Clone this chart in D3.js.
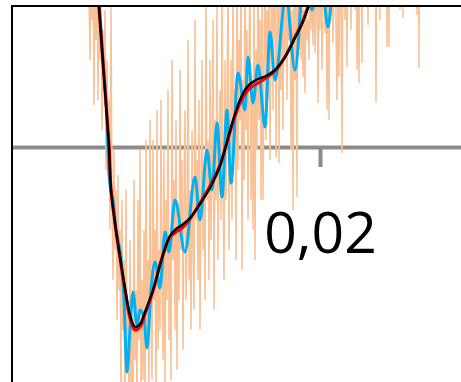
<!DOCTYPE html>
<html>
<head>
<meta charset="utf-8">
<script src="https://cdn.jsdelivr.net/npm/d3@7"></script>
<style>
  html, body { margin: 0; padding: 0; background: #fff; }
  svg { display: block; }
</style>
</head>
<body>
<div id="chart"></div>
<script>
// time in ms, amplitude in mV
const xTicks = [20];

// raw signal, sampled every 0.05 ms from 8.4 ms
const rawStart = 8.4;
const rawStep = 0.05;
const rawValues = [
  207, 157, 87, 187, 127, 197, 42, 177, 107, 207,
  47, 167, 87, 157, 17, 117, 57, 137, -23, 87,
  7, 47, -83, 142, -53, -133, -3, -103, -43, -173,
  -28, -143, -83, -253, -53, -183, -113, -273, -43, -203,
  -153, -273, -93, -243, -173, -283, -33, -213, -143, -273,
  -53, -193, -3, -253, -133, -233, -83, -273, 7, -183,
  -113, -253, 27, -163, -233, 7, -153, -83, -253, 37,
  -203, -103, -183, 47, -133, -213, -3, -243, -53, -153,
  57, -193, -93, -233, 87, -113, -33, -183, 27, -223,
  -73, -153, 77, -103, -13, -203, -53, 37, -153, -93,
  107, -133, -43, -183, 17, -103, -163, 127, -73, -13,
  -133, 47, -183, -53, 87, -103, -33, -153, 157, -53,
  7, -133, 87, -93, -23, 127, -163, 27, -53, 147,
  -113, -3, 57, -73, 167, -33, -133, 87, -53, 37,
  177, -103, 17, 87, -73, 167, -3, 57, -113, 187,
  -23, 107, 27, 177, -123, 67, -33, 197, 17, 117,
  -73, 87, 187, -53, 47, -83, 177, -113, 97, -3,
  197, 27, 127, -53, 167, -53, 87, 207, 7, 137,
  47, 187, -13, 117, 207, 37, 147, 187, -10, 127,
  217, -16, 147, 57, 197, 17, 167, 87, 227, 47,
  177, 107, 217, -3, 137, -63, 207, 67, 167, -50,
  227, 97, 187, 87, 187, 70, 137, 54, 197, 107,
  127, 87, 207, 117, 167, 102, 217, 94, 142, 207,
  44, 167, 117, 217, 77, 147, 227, 114, 177, 37,
  187, 27, 227, 132, 207, 104, 167, 237, 117, 47,
  197, 70, 237, 137, -6, 207, 247, 127, 217, 80,
  237, 147, 227, 117, 257, 167, 237, 137, 247, 77,
  207, 64, 247, 227, 84, 297, 247, 307, 237, 287,
  122, 267, 317, 257, 297, 237, 307, 267, 45, 287,
  247, 317, 127, 277, 317, 267, 307, 287, 327, 100,
  297, 100, 317, 277, 337, 297, 327, 287, 347, 307,
  337, 297, 137, 317, 347, 129, 327, 357, 307, 347,
  317, 367, 327, 357, 317, 367, 337, 377, 327, 132,
  347, 79, 367, 337, 377, 347, 387, 357
];

// filtered signal (blue)
const filtT = [8.80, 8.95, 9.05, 9.15, 9.25, 9.35, 9.40, 9.45, 9.55, 9.65,
  9.80, 9.90, 10.05, 10.20, 10.35, 10.50, 10.65, 10.85, 11.00, 11.20,
  11.35, 11.55, 11.75, 12.00, 12.25, 12.45, 12.75, 13.25, 13.75, 14.00,
  14.35, 14.60, 14.85, 15.10, 15.35, 15.55, 15.90, 16.25, 16.40, 16.65,
  16.90, 17.25, 17.50, 17.75, 18.30, 18.75, 19.25, 19.60, 20.00, 20.40,
  20.80, 21.25, 21.75];
const filtV = [167, 142, 117, 85, 62, 29, -3, -28, -45, -53,
  -83, -93, -111, -153, -225, -183, -145, -178, -163, -171,
  -201, -143, -115, -141, -85, -105, -53, -105, -30, -73,
  -3, -43, 24, -50, 37, -36, 74, 37, 90, 44,
  82, 20, 115, 67, 152, 77, 187, 137, 187, 120,
  197, 167, 227];

// smooth fits (red and black) share the same time points
const fitT = [8.85, 8.95, 9.05, 9.15, 9.30, 9.45, 9.55, 9.75, 10.00, 10.25,
  10.50, 10.75, 11.00, 11.25, 11.65, 12.10, 12.50, 12.80, 13.10, 13.50,
  14.00, 14.50, 15.00, 15.25, 15.50, 15.75, 16.00, 16.25, 16.50, 16.90,
  17.30, 17.75, 18.25, 18.75, 19.10, 19.40, 19.75, 20.25];
const redV = [162, 140, 113, 85, 43, 1, -42, -76, -111, -143,
  -171, -183, -180, -167, -144, -111, -90, -85, -81, -72,
  -56, -39, -18, -2, 15, 31, 44, 53, 59, 64,
  69, 76, 90, 110, 124, 140, 158, 188];
const blackV = [162, 140, 112, 84, 42, 0, -43, -76, -110, -141,
  -168, -180, -177, -165, -143, -111, -89, -82, -78, -71,
  -57, -41, -19, -2, 16, 33, 47, 57, 63, 68,
  71, 77, 90, 109, 123, 139, 157, 187];

const W = 461, H = 382;
const plot = { left: 12, top: 6, right: 461, bottom: 382 };

const svg = d3.select('#chart').append('svg')
  .attr('width', W)
  .attr('height', H);

const x = d3.scaleLinear().domain([4.6, 27.05]).range([plot.left, plot.right]);
const y = d3.scaleLinear().domain([-235, 141]).range([plot.bottom, plot.top]);

const locale = d3.formatLocale({ decimal: ',', thousands: '.', grouping: [3], currency: ['', ''] });
const secFormat = locale.format('.2f');

svg.append('clipPath').attr('id', 'clip')
  .append('rect')
  .attr('x', plot.left + 1)
  .attr('y', plot.top + 1)
  .attr('width', plot.right - plot.left)
  .attr('height', plot.bottom - plot.top);

// x axis through zero
const xAxis = d3.axisBottom(x)
  .tickValues(xTicks)
  .tickSize(20)
  .tickSizeOuter(0)
  .tickFormat(d => secFormat(d / 1000));

const gx = svg.append('g')
  .attr('transform', 'translate(0,' + y(0) + ')')
  .call(xAxis);
gx.select('.domain').attr('stroke', '#8c8c8c').attr('stroke-width', 4);
gx.selectAll('.tick line').attr('stroke', '#8c8c8c').attr('stroke-width', 4);
gx.selectAll('.tick text')
  .attr('y', 106)
  .attr('dy', 0)
  .attr('fill', '#000')
  .style('font-family', '"Open Sans", sans-serif')
  .style('font-size', '57px');

const g = svg.append('g').attr('clip-path', 'url(#clip)');

const raw = rawValues.map((v, i) => ({ t: rawStart + i * rawStep, v }));
const filt = filtT.map((t, i) => ({ t, v: filtV[i] }));
const red = fitT.map((t, i) => ({ t, v: redV[i] }));
const black = fitT.map((t, i) => ({ t, v: blackV[i] }));

g.append('path')
  .datum(raw)
  .attr('fill', 'none')
  .attr('stroke', '#f9c196')
  .attr('stroke-width', 1.5)
  .attr('d', d3.line().x(d => x(d.t)).y(d => y(d.v)));

g.append('path')
  .datum(filt)
  .attr('fill', 'none')
  .attr('stroke', '#00b0f0')
  .attr('stroke-width', 3)
  .attr('stroke-linejoin', 'round')
  .attr('d', d3.line().curve(d3.curveMonotoneX).x(d => x(d.t)).y(d => y(d.v)));

g.append('path')
  .datum(red)
  .attr('fill', 'none')
  .attr('stroke', '#ff0000')
  .attr('stroke-width', 3.2)
  .attr('d', d3.line().curve(d3.curveCatmullRom).x(d => x(d.t)).y(d => y(d.v)));

g.append('path')
  .datum(black)
  .attr('fill', 'none')
  .attr('stroke', '#000')
  .attr('stroke-width', 2.4)
  .attr('d', d3.line().curve(d3.curveCatmullRom).x(d => x(d.t)).y(d => y(d.v)));

// plot frame (left and top edges visible in the crop)
svg.append('line')
  .attr('x1', plot.left).attr('x2', plot.left)
  .attr('y1', plot.top - 1).attr('y2', plot.bottom)
  .attr('stroke', '#000').attr('stroke-width', 2);
svg.append('line')
  .attr('x1', plot.left - 1).attr('x2', plot.right)
  .attr('y1', plot.top).attr('y2', plot.top)
  .attr('stroke', '#000').attr('stroke-width', 2);
</script>
</body>
</html>
